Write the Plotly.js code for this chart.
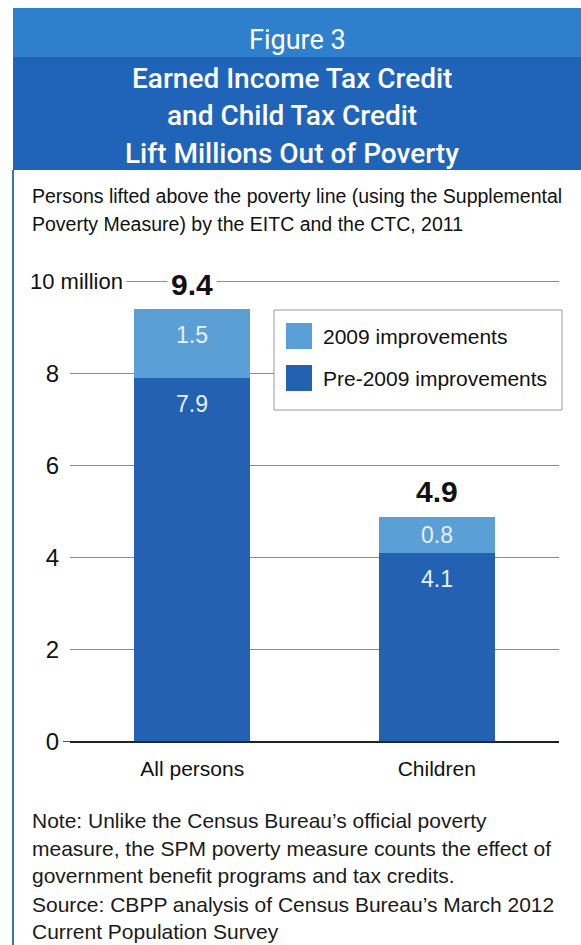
<!DOCTYPE html>
<html>
<head>
<meta charset="utf-8">
<script src="https://cdn.plot.ly/plotly-3.0.1.min.js"></script>
<style>html,body{margin:0;padding:0;background:#fff;}#chart{width:581px;height:945px;}</style>
</head>
<body>
<div id="chart"></div>
<script>
// ---- data ----
const categories = ["All persons", "Children"];
const seriesNames = ["Pre-2009 improvements", "2009 improvements"];
const pre2009 = [7.9, 4.1];
const improvements2009 = [1.5, 0.8];
const totals = [9.4, 4.9];
const yTickVals = [0, 2, 4, 6, 8, 10];
const yTickText = ["0", "2", "4", "6", "8", ""];
const topTickLabel = "10 million";

const headerSmall = "Figure 3";
const headerLines = ["Earned Income Tax Credit", "and Child Tax Credit", "Lift Millions Out of Poverty"];
const subtitleLines = ["Persons lifted above the poverty line (using the Supplemental", "Poverty Measure) by the EITC and the CTC, 2011"];
const noteLines = ["Note: Unlike the Census Bureau\u2019s official poverty", "measure, the SPM poverty measure counts the effect of", "government benefit programs and tax credits."];
const sourceLines = ["Source: CBPP analysis of Census Bureau\u2019s March 2012", "Current Population Survey"];

// ---- styles ----
const LAB = '"Liberation Sans", "Roboto", sans-serif';
const SANS = '"Liberation Sans", "Roboto", sans-serif';
const HEAD = '"Roboto", "Liberation Sans", sans-serif';
const DARK = '#2361b2';
const LIGHT = '#5b9fd7';
const W = 581, H = 945;
const M = {l: 70, r: 22, t: 268, b: 203};
const PW = W - M.l - M.r, PH = H - M.t - M.b;
const px = v => (v - M.l) / PW;         // pixel x -> paper
const py = v => (H - M.b - v) / PH;     // pixel y -> paper
const PX_PER_UNIT = PH / 10.3;

const traces = [
  {type: 'bar', name: seriesNames[0], x: categories, y: pre2009, marker: {color: DARK}, width: 0.475, hoverinfo: 'skip'},
  {type: 'bar', name: seriesNames[1], x: categories, y: improvements2009, marker: {color: LIGHT}, width: 0.475, hoverinfo: 'skip'}
];

const annotations = [];
const shapes = [];

// header
shapes.push({type: 'rect', xref: 'paper', yref: 'paper', x0: px(13), x1: px(581), y0: py(8), y1: py(57), fillcolor: '#2f80cc', line: {width: 0}});
shapes.push({type: 'rect', xref: 'paper', yref: 'paper', x0: px(13), x1: px(581), y0: py(57), y1: py(170), fillcolor: '#2064b9', line: {width: 0}});
shapes.push({type: 'line', xref: 'paper', yref: 'paper', x0: px(13), x1: px(13), y0: py(170), y1: py(945), line: {color: '#3a72b8', width: 2}});
annotations.push({xref: 'paper', yref: 'paper', x: px(297), y: py(40), text: headerSmall, showarrow: false, xanchor: 'center', yanchor: 'middle', font: {family: HEAD, size: 27, color: '#ffffff'}});
const headerY = [78, 116, 153];
headerLines.forEach((t, i) => annotations.push({xref: 'paper', yref: 'paper', x: px(292), y: py(headerY[i]), text: t, showarrow: false, xanchor: 'center', yanchor: 'middle', font: {family: HEAD, size: 28, color: '#ffffff', weight: 500}}));

// subtitle
const subY = [196, 224];
subtitleLines.forEach((t, i) => annotations.push({xref: 'paper', yref: 'paper', x: px(30), y: py(subY[i]), text: t, showarrow: false, xanchor: 'left', yanchor: 'middle', font: {family: LAB, size: 19.5, color: '#111'}}));

// note & source
const noteY = [820, 848, 875];
noteLines.forEach((t, i) => annotations.push({xref: 'paper', yref: 'paper', x: px(30), y: py(noteY[i]), text: t, showarrow: false, xanchor: 'left', yanchor: 'middle', font: {family: SANS, size: 21, color: '#1a1a1a'}}));
const srcY = [904, 931];
sourceLines.forEach((t, i) => annotations.push({xref: 'paper', yref: 'paper', x: px(30), y: py(srcY[i]), text: t, showarrow: false, xanchor: 'left', yanchor: 'middle', font: {family: SANS, size: 21, color: '#1a1a1a'}}));

// top tick label
annotations.push({xref: 'paper', yref: 'y', x: px(127), y: 10, text: topTickLabel, showarrow: false, xanchor: 'right', yanchor: 'middle', bgcolor: '#ffffff', borderpad: 3, font: {family: LAB, size: 22, color: '#111'}});

// totals
categories.forEach((c, i) => annotations.push({x: c, y: totals[i], xref: 'x', yref: 'y', text: '<b>' + totals[i] + '</b>', showarrow: false, xanchor: 'center', yanchor: 'middle', yshift: 25, bgcolor: '#ffffff', borderpad: 3, font: {family: LAB, size: 30, color: '#111'}}));

// segment labels
categories.forEach((c, i) => {
  const segs = [[pre2009[i], pre2009[i]], [improvements2009[i], pre2009[i] + improvements2009[i]]];
  segs.forEach(([v, top]) => {
    const shift = Math.min(26, v * PX_PER_UNIT / 2);
    annotations.push({x: c, y: top, xref: 'x', yref: 'y', text: String(v), showarrow: false, xanchor: 'center', yanchor: 'middle', yshift: -shift, font: {family: LAB, size: 23, color: '#e8f0fa'}});
  });
});

// zero line extension
shapes.push({type: 'line', xref: 'paper', yref: 'y', x0: px(63), x1: 1, y0: 0, y1: 0, line: {color: '#222', width: 1.5}, layer: 'above'});

// custom legend
shapes.push({type: 'rect', xref: 'paper', yref: 'paper', x0: px(274), x1: px(562), y0: py(310), y1: py(410), fillcolor: '#ffffff', line: {color: '#9a9a9a', width: 1}, layer: 'above'});
const legendItems = [[seriesNames[1], LIGHT, 336], [seriesNames[0], DARK, 378]];
legendItems.forEach(([name, col, cy]) => {
  shapes.push({type: 'rect', xref: 'paper', yref: 'paper', x0: px(286), x1: px(312), y0: py(cy - 13), y1: py(cy + 13), fillcolor: col, line: {width: 0}, layer: 'above'});
  annotations.push({xref: 'paper', yref: 'paper', x: px(321), y: py(cy), text: name, showarrow: false, xanchor: 'left', yanchor: 'middle', font: {family: LAB, size: 21, color: '#111'}});
});

const layout = {
  width: W, height: H,
  margin: M,
  paper_bgcolor: '#ffffff', plot_bgcolor: '#ffffff',
  barmode: 'stack',
  showlegend: false,
  xaxis: {type: 'category', range: [-0.5, 1.5], showgrid: false, showline: false, zeroline: false, ticks: '', tickfont: {family: LAB, size: 21, color: '#111'}, ticklabelstandoff: 12, fixedrange: true},
  yaxis: {range: [0, 10.3], tickvals: yTickVals, ticktext: yTickText, showgrid: true, gridcolor: '#8c8c8c', gridwidth: 1, zeroline: true, zerolinecolor: '#222', zerolinewidth: 1.5, showline: false, ticks: '', tickfont: {family: LAB, size: 24, color: '#111'}, ticklabelstandoff: 10, fixedrange: true},
  shapes: shapes,
  annotations: annotations
};

Plotly.newPlot('chart', traces, layout, {displayModeBar: false, staticPlot: true});
</script>
</body>
</html>
